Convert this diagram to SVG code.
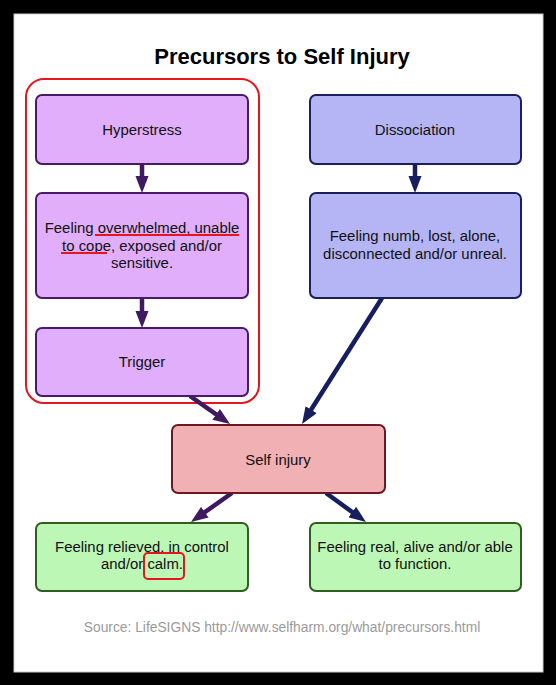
<svg xmlns="http://www.w3.org/2000/svg" width="556" height="685" viewBox="0 0 556 685">
<defs>
<style>
.t{font-family:"Liberation Sans",Arial,sans-serif;font-size:14.9px;fill:#111;text-anchor:middle}
.p{fill:#e0aefa;stroke:#4a1a6a;stroke-width:2}
.b{fill:#b5b5f5;stroke:#1a1f5e;stroke-width:2}
.r{fill:#f0b0b4;stroke:#6a1a20;stroke-width:2}
.g{fill:#bdf7b5;stroke:#2f5e1f;stroke-width:2}
.cp{stroke:#3f1a60;stroke-width:4.5;fill:none}
.cb{stroke:#161e5e;stroke-width:4.5;fill:none}
.ann{fill:none;stroke:#e8141e;stroke-width:2}
</style>
<marker id="ap" viewBox="0 0 13 10" refX="8" refY="5" markerWidth="3.8" markerHeight="2.9" markerUnits="strokeWidth" orient="auto"><path d="M0,0L13,5L0,10z" fill="#3f1a60"/></marker>
<marker id="ab" viewBox="0 0 13 10" refX="8" refY="5" markerWidth="3.8" markerHeight="2.9" markerUnits="strokeWidth" orient="auto"><path d="M0,0L13,5L0,10z" fill="#161e5e"/></marker>
</defs>
<rect x="0" y="0" width="556" height="685" fill="#000"/>
<rect x="14" y="14" width="529" height="658" fill="#fff" stroke="#ccc" stroke-width="1"/>
<text x="282" y="64" font-family="Liberation Sans,Arial,sans-serif" font-size="22" font-weight="bold" text-anchor="middle" fill="#000">Precursors to Self Injury</text>
<rect class="ann" x="26" y="79" width="233" height="324" rx="18"/>
<g id="connectors">
<line class="cp" x1="142" y1="164" x2="142" y2="186.5" marker-end="url(#ap)"/>
<line class="cp" x1="142" y1="298" x2="142" y2="321.5" marker-end="url(#ap)"/>
<line class="cb" x1="415" y1="164" x2="415" y2="186.5" marker-end="url(#ab)"/>
<line class="cp" x1="190" y1="396" x2="224.7" y2="420.3" marker-end="url(#ap)"/>
<line class="cb" x1="382" y1="298" x2="305.5" y2="418.5" marker-end="url(#ab)"/>
<line class="cp" x1="232" y1="493" x2="196.3" y2="518.2" marker-end="url(#ap)"/>
<line class="cb" x1="326" y1="493" x2="360.7" y2="518.2" marker-end="url(#ab)"/>
</g>
<g id="hyperstress"><rect class="p" x="36" y="95" width="212" height="69" rx="6"/><text class="t" x="142" y="135">Hyperstress</text></g>
<g id="overwhelmed"><rect class="p" x="36" y="193" width="212" height="105" rx="6"/>
<text class="t" x="142" y="233">Feeling overwhelmed, unable</text>
<text class="t" x="142" y="251">to cope, exposed and/or</text>
<text class="t" x="142" y="268">sensitive.</text>
<line class="ann" x1="95" y1="235" x2="239" y2="235" stroke-width="2.5"/>
<line class="ann" x1="61" y1="253" x2="107" y2="253" stroke-width="2.5"/>
</g>
<g id="trigger"><rect class="p" x="36" y="328" width="212" height="68" rx="6"/><text class="t" x="142" y="367">Trigger</text></g>
<g id="dissociation"><rect class="b" x="310" y="95" width="211" height="69" rx="6"/><text class="t" x="415" y="135">Dissociation</text></g>
<g id="numb"><rect class="b" x="310" y="193" width="211" height="105" rx="6"/>
<text class="t" x="415" y="241">Feeling numb, lost, alone,</text>
<text class="t" x="415" y="259">disconnected and/or unreal.</text></g>
<g id="selfinjury"><rect class="r" x="172" y="425" width="213" height="68" rx="6"/><text class="t" x="278" y="465">Self injury</text></g>
<g id="relieved"><rect class="g" x="36" y="523" width="212" height="68" rx="6"/>
<text class="t" x="142" y="552">Feeling relieved, in control</text>
<text class="t" x="142" y="569">and/or calm.</text>
<rect class="ann" x="144" y="553" width="40" height="26" rx="4" stroke-width="2.2"/></g>
<g id="real"><rect class="g" x="310" y="523" width="211" height="68" rx="6"/>
<text class="t" x="415" y="552">Feeling real, alive and/or able</text>
<text class="t" x="415" y="569">to function.</text></g>
<text x="282" y="632" font-family="Liberation Sans,Arial,sans-serif" font-size="13.8" text-anchor="middle" fill="#9a9a9a">Source: LifeSIGNS http://www.selfharm.org/what/precursors.html</text>
</svg>
